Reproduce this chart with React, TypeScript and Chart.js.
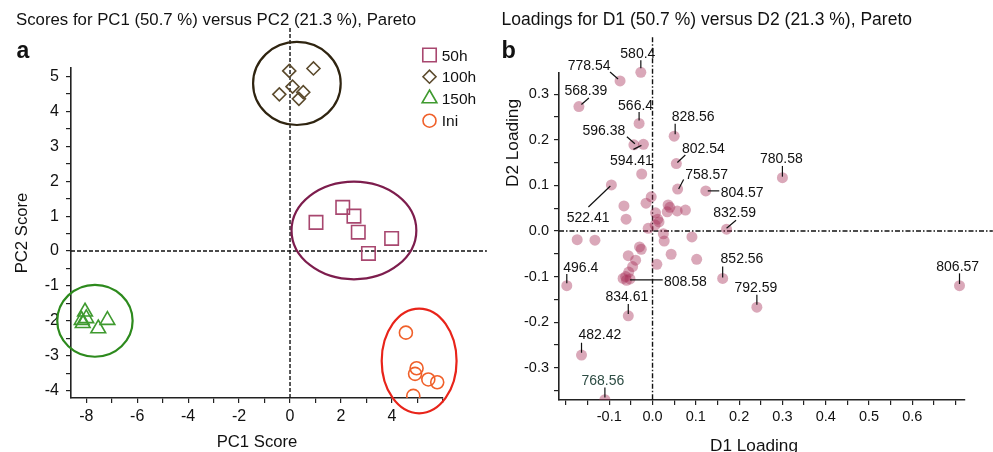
import React, { useEffect, useRef } from 'react';
import { Chart, registerables } from 'chart.js';
Chart.register(...registerables);

const FONT = '"Liberation Sans", Arial, Helvetica, sans-serif';

// ---------- Panel a : scores ----------
const groupNames = ['50h', '100h', '150h', 'Ini'];
const scores50hX = [1.02, 2.07, 2.51, 2.68, 3.08, 3.99];
const scores50hY = [0.82, 1.25, 1.0, 0.54, -0.07, 0.36];
const scores100hX = [-0.03, 0.92, 0.1, -0.42, 0.52, 0.35];
const scores100hY = [5.16, 5.23, 4.71, 4.49, 4.55, 4.36];
const scores150hX = [-8.05, -8.18, -8.14, -8.0, -7.53, -7.17];
const scores150hY = [-1.74, -1.98, -2.07, -1.93, -2.22, -1.98];
const scoresIniX = [4.55, 4.97, 4.91, 5.43, 5.78, 4.84];
const scoresIniY = [-2.34, -3.36, -3.52, -3.68, -3.76, -4.15];

const ellipseCX = [2.51, 0.27, -7.66, 5.07];
const ellipseCY = [0.59, 4.8, -2.0, -3.15];
const ellipseRX = [2.45, 1.72, 1.48, 1.47];
const ellipseRY = [1.4, 1.19, 1.03, 1.5];

const xTickLabelsA = [-8, -6, -4, -2, 0, 2, 4];
const yTickLabelsA = [-4, -3, -2, -1, 0, 1, 2, 3, 4, 5];

// ---------- Panel b : loadings ----------
const loadingNames = ['580.4', '778.54', '568.39', '566.4', '596.38', '594.41', '828.56', '802.54', '758.57', '804.57', '522.41', '832.59', '780.58', '806.57', '852.56', '792.59', '808.58', '496.4', '834.61', '482.42', '768.56'];
const loadingD1 = [-0.027, -0.075, -0.17, -0.031, -0.043, -0.021, 0.05, 0.055, 0.058, 0.123, -0.095, 0.171, 0.3, 0.709, 0.162, 0.241, -0.052, -0.198, -0.056, -0.164, -0.11];
const loadingD2 = [0.348, 0.329, 0.273, 0.236, 0.189, 0.19, 0.208, 0.148, 0.092, 0.088, 0.101, 0.004, 0.117, -0.12, -0.104, -0.167, -0.105, -0.12, -0.186, -0.272, -0.37];
const otherD1 = [-0.025, -0.003, -0.066, -0.015, -0.061, 0.036, 0.04, 0.034, 0.057, 0.076, 0.007, 0.012, 0.015, 0.006, -0.01, 0.025, 0.027, 0.091, -0.174, -0.133, 0.043, 0.102, -0.03, -0.026, -0.056, -0.039, -0.046, 0.01, -0.055, -0.062, -0.068, -0.06];
const otherD2 = [0.125, 0.075, 0.055, 0.061, 0.026, 0.057, 0.052, 0.042, 0.044, 0.046, 0.04, 0.026, 0.02, 0.013, 0.006, -0.006, -0.022, -0.013, -0.019, -0.02, -0.051, -0.062, -0.035, -0.04, -0.054, -0.064, -0.078, -0.073, -0.09, -0.1, -0.104, -0.108];

const xTickLabelsB = [-0.1, 0, 0.1, 0.2, 0.3, 0.4, 0.5, 0.6];
const yTickLabelsB = [-0.3, -0.2, -0.1, 0, 0.1, 0.2, 0.3];

// label placement relative to each labelled point (pixels)
const labelPlacement: Record<string, { dx: number; dy: number; align?: CanvasTextAlign; l: number[]; color?: string }> = {
  '580.4': { dx: -3, dy: -14, l: [0, -4, 0, -12] },
  '778.54': { dx: -31, dy: -11, l: [-10, -9, -2, -2] },
  '568.39': { dx: 7, dy: -12, l: [10, -8.5, 2.5, -2] },
  '566.4': { dx: -3.5, dy: -13, l: [0, -11.5, 0, -3] },
  '596.38': { dx: -30, dy: -10, l: [-7, -8, 1, -1] },
  '594.41': { dx: -12, dy: 21, l: [-10, 5, -2, 1] },
  '828.56': { dx: 19, dy: -15.5, l: [1, -12.5, 1, -2] },
  '802.54': { dx: 27, dy: -11, l: [9, -8.5, 1, -1] },
  '758.57': { dx: 29, dy: -10.5, l: [6, -9.5, 1, 0] },
  '804.57': { dx: 15, dy: 5.8, align: 'left', l: [2, 0, 13.5, 0] },
  '522.41': { dx: -23.3, dy: 36.7, l: [-23, 22, -1, 1] },
  '832.59': { dx: 8, dy: -12.3, l: [9.5, -9, 0, -1] },
  '780.58': { dx: -1, dy: -14.4, l: [0, -11.7, 0, -1] },
  '806.57': { dx: -1.8, dy: -15, l: [0, -12.4, 0, -1.7] },
  '852.56': { dx: 19.3, dy: -15, l: [0, -12, 0, -1] },
  '792.59': { dx: -1, dy: -15.6, l: [0, -12.3, 0, -2.3] },
  '808.58': { dx: 34, dy: 7.5, align: 'left', l: [0, 1, 32.7, 1] },
  '496.4': { dx: 14, dy: -14, l: [0, -11.7, 0, -2.4] },
  '834.61': { dx: -1.4, dy: -15, l: [0, -11.7, 0, -1.7] },
  '482.42': { dx: 18.3, dy: -16.3, l: [0, -12.3, 0, -2.3] },
  '768.56': { dx: -2, dy: -15, l: [0, -12.3, 0, -2.3], color: '#2e4d44' },
};

const markerStyles = ['rect', 'rectRot', 'triangle', 'circle'];
const markerRadius = [9.5, 6.5, 8.5, 6.5];
const markerColors = ['#a8476f', '#5b4a2c', '#3f9a2f', '#f0602a'];
const ellipseColors = ['#7d1d4d', '#2f2410', '#2d8a1d', '#e8241a'];

const steps = (from: number, to: number, step: number) => {
  const out: number[] = [];
  for (let v = from; v <= to + 1e-9; v += step) out.push(Math.round(v * 1000) / 1000);
  return out;
};
const near = (list: number[], v: number) => list.some((t) => Math.abs(t - v) < 1e-6);

const axisCommon = (size: number) => ({
  grid: { display: true, drawOnChartArea: false, drawTicks: true, tickLength: 5, color: '#222', tickColor: '#222', lineWidth: 1.2 },
  border: { display: true, color: '#222', width: 1.6 },
  ticks: { autoSkip: false, maxRotation: 0, minRotation: 0, color: '#111', font: { family: FONT, size } },
});

function drawMarker(ctx: CanvasRenderingContext2D, style: string, x: number, y: number, r: number) {
  ctx.beginPath();
  if (style === 'rect') {
    const s = Math.SQRT1_2 * r;
    ctx.rect(x - s, y - s, 2 * s, 2 * s);
  } else if (style === 'rectRot') {
    ctx.moveTo(x - r, y); ctx.lineTo(x, y - r); ctx.lineTo(x + r, y); ctx.lineTo(x, y + r); ctx.closePath();
  } else if (style === 'triangle') {
    let a = 0;
    ctx.moveTo(x + Math.sin(a) * r, y - Math.cos(a) * r);
    a += (2 * Math.PI) / 3; ctx.lineTo(x + Math.sin(a) * r, y - Math.cos(a) * r);
    a += (2 * Math.PI) / 3; ctx.lineTo(x + Math.sin(a) * r, y - Math.cos(a) * r);
    ctx.closePath();
  } else {
    ctx.arc(x, y, r, 0, Math.PI * 2);
  }
  ctx.stroke();
}

const decorA = {
  id: 'decorA',
  beforeDatasetsDraw(chart: any) {
    const { ctx } = chart;
    const x = chart.scales.x, y = chart.scales.y;
    ctx.save();
    ctx.setLineDash([4, 2]);
    ctx.lineWidth = 1.4;
    ctx.strokeStyle = '#111';
    ctx.beginPath();
    ctx.moveTo(x.left, y.getPixelForValue(0));
    ctx.lineTo(x.getPixelForValue(7.73), y.getPixelForValue(0));
    ctx.moveTo(x.getPixelForValue(0), y.getPixelForValue(6.39));
    ctx.lineTo(x.getPixelForValue(0), y.bottom);
    ctx.stroke();
    ctx.setLineDash([]);
    ctx.lineWidth = 2.2;
    ellipseCX.forEach((cx, i) => {
      const px = x.getPixelForValue(cx);
      const py = y.getPixelForValue(ellipseCY[i]);
      const rx = Math.abs(x.getPixelForValue(cx + ellipseRX[i]) - px);
      const ry = Math.abs(y.getPixelForValue(ellipseCY[i] + ellipseRY[i]) - py);
      ctx.strokeStyle = ellipseColors[i];
      ctx.beginPath();
      ctx.ellipse(px, py, rx, ry, 0, 0, Math.PI * 2);
      ctx.stroke();
    });
    ctx.restore();
  },
  afterDraw(chart: any) {
    const { ctx } = chart;
    ctx.save();
    ctx.fillStyle = '#111';
    ctx.textAlign = 'left';
    ctx.textBaseline = 'alphabetic';
    ctx.font = `16.8px ${FONT}`;
    ctx.fillText('Scores for PC1 (50.7 %) versus PC2 (21.3 %), Pareto', 16, 25);
    ctx.font = `bold 23px ${FONT}`;
    ctx.fillText('a', 16.5, 58);
    ctx.font = `16.7px ${FONT}`;
    ctx.textAlign = 'center';
    ctx.fillText('PC1 Score', (chart.chartArea.left + chart.chartArea.right) / 2, 446.5);
    ctx.save();
    ctx.translate(26.5, (chart.chartArea.top + chart.chartArea.bottom) / 2);
    ctx.rotate(-Math.PI / 2);
    ctx.fillText('PC2 Score', 0, 0);
    ctx.restore();
    // legend
    const rows = [55, 76.7, 98.5, 120.7];
    ctx.textAlign = 'left';
    ctx.font = `15.5px ${FONT}`;
    groupNames.forEach((name, i) => {
      ctx.strokeStyle = markerColors[i];
      ctx.lineWidth = 1.6;
      drawMarker(ctx, markerStyles[i], 429.5, rows[i], markerRadius[i]);
      ctx.fillStyle = '#111';
      ctx.fillText(name, 441.7, rows[i] + 5.7);
    });
    ctx.restore();
  },
};

const decorB = {
  id: 'decorB',
  beforeDatasetsDraw(chart: any) {
    const { ctx } = chart;
    const x = chart.scales.x, y = chart.scales.y;
    ctx.save();
    ctx.setLineDash([5, 2, 1.5, 2]);
    ctx.lineWidth = 1.4;
    ctx.strokeStyle = '#111';
    ctx.beginPath();
    ctx.moveTo(x.left, y.getPixelForValue(0));
    ctx.lineTo(x.getPixelForValue(0.786), y.getPixelForValue(0));
    ctx.moveTo(x.getPixelForValue(0), y.getPixelForValue(0.425));
    ctx.lineTo(x.getPixelForValue(0), y.bottom);
    ctx.stroke();
    ctx.restore();
  },
  afterDatasetsDraw(chart: any) {
    const { ctx } = chart;
    const meta = chart.getDatasetMeta(0);
    ctx.save();
    ctx.font = `14px ${FONT}`;
    ctx.textBaseline = 'alphabetic';
    loadingNames.forEach((name, i) => {
      const pt = meta.data[i];
      const p = labelPlacement[name];
      if (!pt || !p) return;
      ctx.strokeStyle = '#111';
      ctx.lineWidth = 1.2;
      ctx.beginPath();
      ctx.moveTo(pt.x + p.l[0], pt.y + p.l[1]);
      ctx.lineTo(pt.x + p.l[2], pt.y + p.l[3]);
      ctx.stroke();
      ctx.fillStyle = p.color || '#111';
      ctx.textAlign = p.align || 'center';
      ctx.fillText(name, pt.x + p.dx, pt.y + p.dy);
    });
    ctx.restore();
  },
  afterDraw(chart: any) {
    const { ctx } = chart;
    ctx.save();
    ctx.fillStyle = '#111';
    ctx.textAlign = 'left';
    ctx.textBaseline = 'alphabetic';
    ctx.font = `17.5px ${FONT}`;
    ctx.fillText('Loadings for D1 (50.7 %) versus D2 (21.3 %), Pareto', 501.5, 24.5);
    ctx.font = `bold 23.5px ${FONT}`;
    ctx.fillText('b', 501.5, 58);
    ctx.font = `17.2px ${FONT}`;
    ctx.textAlign = 'center';
    ctx.fillText('D1 Loading', 754, 450.5);
    ctx.save();
    ctx.translate(517.5, 143);
    ctx.rotate(-Math.PI / 2);
    ctx.fillText('D2 Loading', 0, 0);
    ctx.restore();
    ctx.restore();
  },
};

const datasetsA = [
  [scores50hX, scores50hY],
  [scores100hX, scores100hY],
  [scores150hX, scores150hY],
  [scoresIniX, scoresIniY],
].map(([xs, ys], i) => ({
  label: groupNames[i],
  data: xs.map((v, j) => ({ x: v, y: ys[j] })),
  pointStyle: markerStyles[i],
  pointRadius: markerRadius[i],
  pointBorderColor: markerColors[i],
  pointBackgroundColor: 'rgba(0,0,0,0)',
  pointBorderWidth: 1.6,
  borderColor: markerColors[i],
  showLine: false,
  clip: { left: 20, top: 40, right: 60, bottom: 0 },
}));

const axA = axisCommon(16);
const axB = axisCommon(14.5);

const configA: any = {
  type: 'scatter',
  data: { datasets: datasetsA },
  options: {
    responsive: false,
    animation: false,
    events: [],
    layout: { padding: { left: 0, top: 68, right: 550, bottom: 0 } },
    plugins: { legend: { display: false }, tooltip: { enabled: false }, title: { display: false } },
    scales: {
      x: {
        type: 'linear', min: -8.6, max: 6.007, ...axA,
        ticks: { ...axA.ticks, padding: 4, callback: (v: number) => (near(xTickLabelsA, v) ? String(Math.round(v)) : '') },
        afterBuildTicks: (s: any) => { s.ticks = steps(-8, 6, 1).map((value) => ({ value })); },
        afterFit: (s: any) => { s.height = 54; },
      },
      y: {
        type: 'linear', min: -4.212, max: 5.244, ...axA,
        ticks: { ...axA.ticks, padding: 7, callback: (v: number) => (near(yTickLabelsA, v) ? String(Math.round(v)) : '') },
        afterBuildTicks: (s: any) => { s.ticks = steps(-4, 5, 0.5).map((value) => ({ value })); },
        afterFit: (s: any) => { s.width = 71; },
      },
    },
  },
  plugins: [decorA],
};

const configB: any = {
  type: 'scatter',
  data: {
    datasets: [
      {
        label: 'labelled',
        data: loadingD1.map((v, i) => ({ x: v, y: loadingD2[i] })),
        pointRadius: 5.5,
        pointBorderWidth: 0,
        pointBackgroundColor: 'rgba(168, 48, 88, 0.42)',
        pointBorderColor: 'rgba(0,0,0,0)',
        showLine: false,
        clip: { left: 10, top: 20, right: 40, bottom: 0 },
      },
      {
        label: 'other',
        data: otherD1.map((v, i) => ({ x: v, y: otherD2[i] })),
        pointRadius: 5.5,
        pointBorderWidth: 0,
        pointBackgroundColor: 'rgba(168, 48, 88, 0.42)',
        pointBorderColor: 'rgba(0,0,0,0)',
        showLine: false,
        clip: { left: 10, top: 20, right: 40, bottom: 0 },
      },
    ],
  },
  options: {
    responsive: false,
    animation: false,
    events: [],
    layout: { padding: { left: 0, top: 73, right: 28, bottom: 0 } },
    plugins: { legend: { display: false }, tooltip: { enabled: false }, title: { display: false } },
    scales: {
      x: {
        type: 'linear', min: -0.216, max: 0.7217, ...axB,
        ticks: { ...axB.ticks, padding: 3, callback: (v: number) => (near(xTickLabelsB, v) ? v.toFixed(1) : '') },
        afterBuildTicks: (s: any) => { s.ticks = steps(-0.2, 0.7, 0.05).map((value) => ({ value })); },
        afterFit: (s: any) => { s.height = 52; },
      },
      y: {
        type: 'linear', min: -0.3706, max: 0.3465, ...axB,
        ticks: { ...axB.ticks, padding: 5, callback: (v: number) => (near(yTickLabelsB, v) ? v.toFixed(1) : '') },
        afterBuildTicks: (s: any) => { s.ticks = steps(-0.35, 0.3, 0.05).map((value) => ({ value })); },
        afterFit: (s: any) => { s.width = 559; },
      },
    },
  },
  plugins: [decorB],
};

export default function App() {
  const refA = useRef<HTMLCanvasElement>(null);
  const refB = useRef<HTMLCanvasElement>(null);
  useEffect(() => {
    const a = new Chart(refA.current as HTMLCanvasElement, configA);
    const b = new Chart(refB.current as HTMLCanvasElement, configB);
    return () => {
      a.destroy();
      b.destroy();
    };
  }, []);
  return (
    <div style={{ position: 'fixed', left: 0, top: 0, width: 993, height: 452, background: '#fff', overflow: 'hidden' }}>
      <canvas ref={refA} width={993} height={452} style={{ position: 'absolute', left: 0, top: 0, width: 993, height: 452 }} />
      <canvas ref={refB} width={993} height={452} style={{ position: 'absolute', left: 0, top: 0, width: 993, height: 452 }} />
    </div>
  );
}
